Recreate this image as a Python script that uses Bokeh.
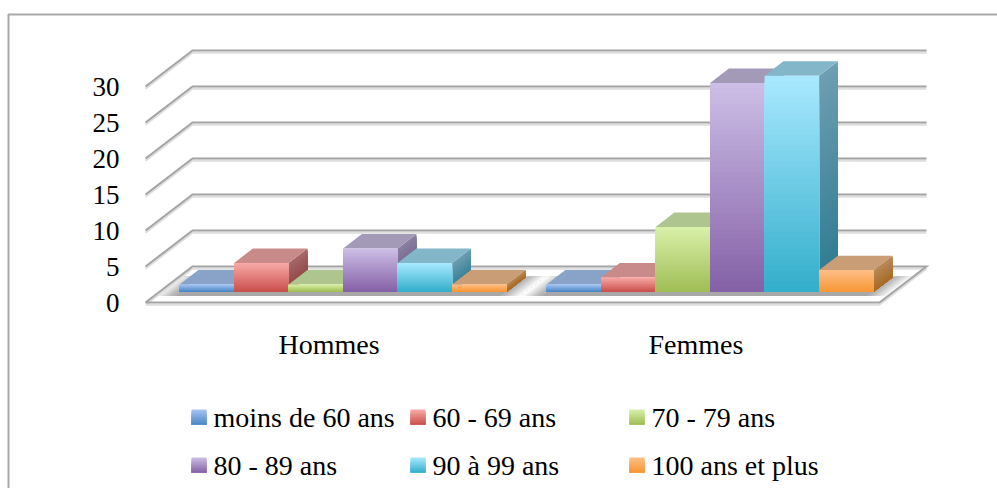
from bokeh.plotting import figure
from bokeh.models import LinearAxis, FixedTicker, Range1d
from bokeh.core.properties import value
from bokeh.embed import file_html
from bokeh.resources import INLINE

# ---- data
categories = ["Hommes", "Femmes"]
series = ["moins de 60 ans", "60 - 69 ans", "70 - 79 ans", "80 - 89 ans", "90 à 99 ans", "100 ans et plus"]
hommes = [1, 4, 1, 6, 4, 1]
femmes = [1, 2, 9, 29, 30, 3]
y_ticks = [0, 5, 10, 15, 20, 25, 30]

# ---- style: (front top, front bottom, top face, side top, side bottom)
colors = [
    ("#a7c6f4", "#4a86c6", "#88a3c7", "#6f8db5", "#4f74a0"),
    ("#f9aba8", "#c94f4b", "#c98b89", "#a8696a", "#8b4342"),
    ("#d9f1a9", "#9fbd55", "#afc590", "#95ab70", "#7c9445"),
    ("#cdbfe7", "#8460a6", "#a39ab8", "#8a80a2", "#64507f"),
    ("#a9e9ff", "#33aecb", "#84b6c9", "#6f9eb2", "#2b7a90"),
    ("#ffbf87", "#f79636", "#c99e77", "#b98b5c", "#a96b25"),
]
FONT = "Liberation Serif"
GRID = "#a4a4a4"
GRID_SH = "#dedede"
W, H = 997, 488
OX, OY = 0, 0
PX_CAT0, PX_CAT = 328.5, 367.0   # screen x of first category, px per category
PX_V0, PX_V = 302.0, 7.2         # screen y of value 0, px per value unit
DEPTH_X, DEPTH_V = 47 / 367.0, 5.0   # oblique projection of full depth
BAR_W = 54.5 / 367.0
D0, D1 = 0.3, 0.7
N = 40


def xd(px):
    return (px - PX_CAT0) / PX_CAT


def yd(py):
    return (PX_V0 - py) / PX_V


def mix(c1, c2, t):
    a = [int(c1[i:i + 2], 16) for i in (1, 3, 5)]
    b = [int(c2[i:i + 2], 16) for i in (1, 3, 5)]
    return "#%02x%02x%02x" % tuple(round(a[k] + (b[k] - a[k]) * t) for k in range(3))


p = figure(width=W, height=H, output_backend="svg", toolbar_location=None,
           x_range=Range1d(xd(OX), xd(OX + W)), y_range=Range1d(yd(OY + H), yd(OY)),
           x_axis_location=None, y_axis_location=None, min_border=0)
p.grid.visible = False
p.outline_line_color = None

# frame
p.line([xd(8), xd(8), xd(OX + W)], [yd(OY + H), yd(14), yd(14)], line_color="#a9a9a9", line_width=2)

X0, X1 = -0.5, len(categories) - 0.5

# walls
for t in y_ticks[1:]:
    xs = [X0, X0 + DEPTH_X, X1 + DEPTH_X]
    ys = [t, t + DEPTH_V, t + DEPTH_V]
    p.line(xs, [y - 0.3 for y in ys], line_color=GRID_SH, line_width=2)
    p.line(xs, ys, line_color=GRID, line_width=2)


def proj(x, v, d):
    return x + d * DEPTH_X, v + d * DEPTH_V


pxs, pys, pcol = [], [], []


def poly(pts, col):
    pxs.append([a for a, _ in pts])
    pys.append([b for _, b in pts])
    pcol.append(col)


# floor shadows (each strip runs to the far end, later strips paint over it)
SH = "#a8a8a8"
for c in range(len(categories)):
    left = c - 3 * BAR_W
    right = c + 3 * BAR_W
    s = 20 / 367.0
    for k in range(14):
        t0, t1 = k / 14, (k + 1) / 14
        col = mix(SH, "#ffffff", t1)
        poly([proj(right + s * t0, 0, 0.18), proj(right + s, 0, 0.18),
              proj(right + s, 0, 0.72), proj(right + s * t0, 0, 0.72)], col)
        poly([proj(left - s * t0, 0, 0.18), proj(left - s, 0, 0.18),
              proj(left - s, 0, 0.72), proj(left - s * t0, 0, 0.72)], col)
    poly([proj(left, 0, 0.18), proj(right, 0, 0.18), proj(right, 0, 0.3), proj(left, 0, 0.3)], SH)
n_floor = len(pxs)

# bars, painted left to right; each strip runs down to the base so no seams show
for c, vals in enumerate([hommes, femmes]):
    for i, v in enumerate(vals):
        ctop, cbot, cface, stop, sbot = colors[i]
        l = c + (i - 3) * BAR_W
        r = l + BAR_W
        for k in range(N):
            a = v * (1 - k / N)
            poly([proj(r, a, D0), proj(r, a, D1), proj(r, 0, D1), proj(r, 0, D0)],
                 mix(stop, sbot, (k + .5) / N))
        poly([proj(l, v, D0), proj(r, v, D0), proj(r, v, D1), proj(l, v, D1)], cface)
        for k in range(N):
            a = v * (1 - k / N)
            poly([proj(l, a, D0), proj(r, a, D0), proj(r, 0, D0), proj(l, 0, D0)],
                 mix(ctop, cbot, (k + .5) / N))

# legend swatches
col_px = [191, 410, 629]
row_py = [417, 465]
names_x, names_y = [], []
for i, name in enumerate(series):
    cx, ry = col_px[i % 3], row_py[i // 3]
    n = 10
    for k in range(n):
        a = ry - 8 + 15 * k / n
        b = ry + 7
        poly([(xd(cx), yd(a)), (xd(cx + 15), yd(a)), (xd(cx + 15), yd(b)), (xd(cx), yd(b))],
             mix(colors[i][0], colors[i][1], (k + .5) / n))
    names_x.append(xd(cx + 22))
    names_y.append(yd(ry))

# floor: shadows first, then its outline, then the bars
p.patches(pxs[:n_floor], pys[:n_floor], fill_color=pcol[:n_floor], line_color=None)
fx = [X0, X1, X1 + DEPTH_X, X0 + DEPTH_X, X0]
fy = [0, 0, DEPTH_V, DEPTH_V, 0]
p.line(fx, [y - 0.3 for y in fy], line_color=GRID_SH, line_width=2)
p.line(fx, fy, line_color=GRID, line_width=2, line_join="miter")
p.patches(pxs[n_floor:], pys[n_floor:], fill_color=pcol[n_floor:], line_color=None)

p.text(names_x, names_y, text=series, text_font=value(FONT), text_font_size="28px",
       text_color="#000000", text_baseline="middle", text_align="left")

# axes inside the frame
yax = LinearAxis(fixed_location=xd(146), ticker=FixedTicker(ticks=y_ticks),
                 axis_line_color=None, major_tick_line_color=None, minor_tick_line_color=None,
                 major_label_text_font=FONT, major_label_text_font_size="27px",
                 major_label_text_color="#000000", major_label_standoff=21)
p.add_layout(yax, "left")
xax = LinearAxis(fixed_location=0, ticker=FixedTicker(ticks=list(range(len(categories)))),
                 major_label_overrides={i: n for i, n in enumerate(categories)},
                 axis_line_color=None, major_tick_line_color=None, minor_tick_line_color=None,
                 major_label_text_font=FONT, major_label_text_font_size="28px",
                 major_label_text_color="#000000", major_label_standoff=20)
p.add_layout(xax, "below")

open("out.html", "w").write(file_html(p, INLINE))
